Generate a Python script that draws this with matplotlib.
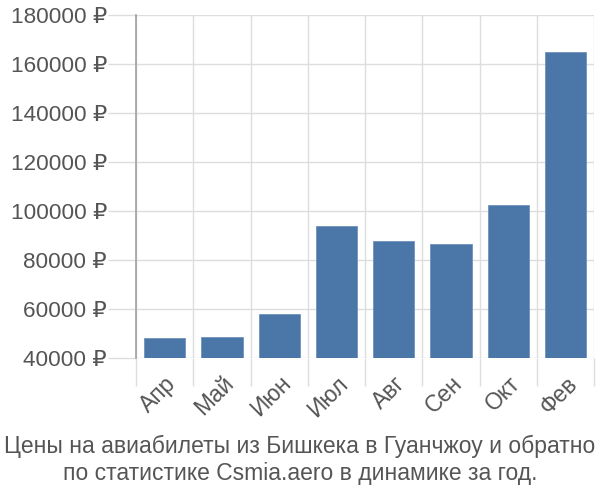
import matplotlib.pyplot as plt
import numpy as np

plt.rcParams['font.family'] = ['Liberation Sans', 'DejaVu Sans']

months = ["Апр", "Май", "Июн", "Июл", "Авг", "Сен", "Окт", "Фев"]
prices = [48300, 48700, 58000, 93700, 87600, 86500, 102400, 164700]
yticks = [40000, 60000, 80000, 100000, 120000, 140000, 160000, 180000]

fig = plt.figure(figsize=(6, 5), dpi=100)
ax = fig.add_axes([0.227, 0.284, 0.763, 0.686])

x = np.arange(len(months))
ax.bar(x, [p - 40000 for p in prices], bottom=40000, width=0.72,
       color="#4a76a8", edgecolor="#6f93bd", linewidth=0.6, zorder=3)

ax.set_xlim(-0.5, len(months) - 0.5)
ax.set_ylim(40000, 180000)

ax.set_xticks(x)
ax.set_xticklabels(months, rotation=45, ha="right", rotation_mode="anchor")
ax.set_xticks(np.arange(-0.5, len(months)), minor=True)
ax.tick_params(axis="x", which="major", length=0, pad=10, labelsize=16.5, labelcolor="#555555")
ax.tick_params(axis="x", which="minor", length=20, color="#dddddd", width=1)

ax.set_yticks(yticks)
ax.set_yticklabels([f"{v} ₽" for v in yticks])
ax.tick_params(axis="y", length=20, color="#dddddd", width=1, pad=1,
               labelsize=16.2, labelcolor="#555555")

ax.grid(True, axis="y", color="#dddddd", linewidth=1, zorder=0)
ax.grid(True, axis="x", which="minor", color="#dddddd", linewidth=1, zorder=0)

for s in ["top", "right", "bottom"]:
    ax.spines[s].set_visible(False)
ax.spines["left"].set_color("#a0a0a0")
ax.spines["left"].set_linewidth(1.2)

fig.text(0.5, 0.08, "Цены на авиабилеты из Бишкека в Гуанчжоу и обратно\nпо статистике Csmia.aero в динамике за год.",
         ha="center", va="center", fontsize=16.5, color="#555555", linespacing=1.2)

fig.savefig("out.png", dpi=100)
